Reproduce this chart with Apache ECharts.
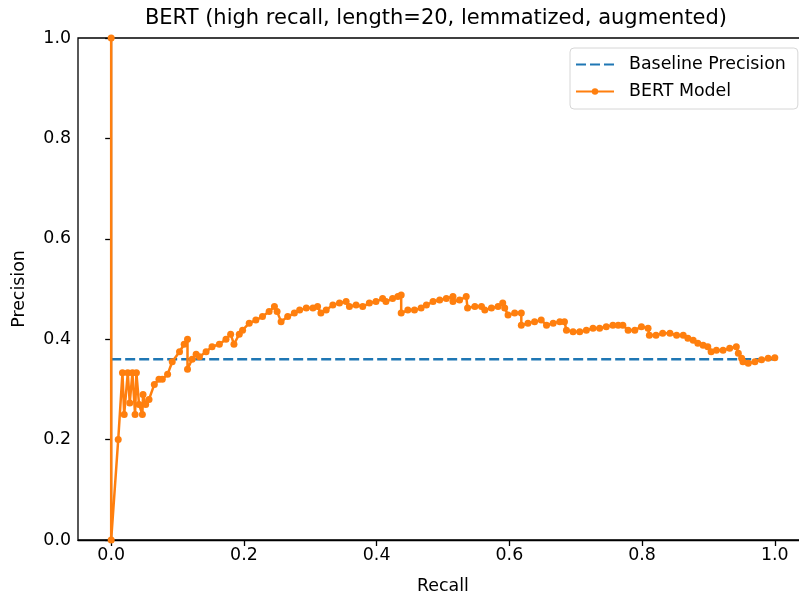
<!DOCTYPE html>
<html>
<head>
<meta charset="UTF-8">
<title>BERT PR curve</title>
<script src="https://cdn.jsdelivr.net/npm/echarts@6/dist/echarts.min.js"></script>
</head>
<body style="margin:0;background:#fff;">
<div id="main" style="width:799px;height:596px;"></div>
<script type="text/javascript">
// recall / precision
var recall = [0, 0, 0.0106, 0.017, 0.0196, 0.025, 0.028, 0.032, 0.036, 0.038, 0.042, 0.047, 0.048, 0.052, 0.057,
    0.065, 0.072, 0.077, 0.085, 0.092, 0.103, 0.11, 0.115, 0.115, 0.122, 0.128, 0.133, 0.143, 0.152, 0.163,
    0.173, 0.18, 0.185, 0.193, 0.198, 0.208, 0.218, 0.228, 0.238, 0.246, 0.25, 0.256, 0.266, 0.276, 0.284,
    0.294, 0.304, 0.311, 0.316, 0.324, 0.334, 0.344, 0.354, 0.359, 0.369, 0.379, 0.389, 0.399, 0.409, 0.414,
    0.424, 0.432, 0.437, 0.437, 0.447, 0.457, 0.467, 0.475, 0.485, 0.495, 0.505, 0.515, 0.515, 0.525, 0.535,
    0.537, 0.548, 0.558, 0.563, 0.573, 0.583, 0.59, 0.593, 0.598, 0.608, 0.618, 0.618, 0.628, 0.638, 0.648,
    0.656, 0.666, 0.676, 0.683, 0.686, 0.696, 0.706, 0.716, 0.726, 0.736, 0.746, 0.756, 0.764, 0.771, 0.779,
    0.789, 0.799, 0.809, 0.811, 0.821, 0.831, 0.842, 0.852, 0.862, 0.869, 0.877, 0.884, 0.892, 0.899, 0.904,
    0.912, 0.922, 0.932, 0.942, 0.945, 0.95, 0.952, 0.96, 0.97, 0.98, 0.99, 1.0];
var precision = [1.0, 0.0, 0.2, 0.333, 0.25, 0.333, 0.273, 0.333, 0.25, 0.333, 0.27, 0.25, 0.29, 0.27, 0.28,
    0.31, 0.32, 0.32, 0.33, 0.355, 0.375, 0.39, 0.4, 0.34, 0.36, 0.37, 0.365, 0.375, 0.385, 0.39,
    0.4, 0.41, 0.39, 0.41, 0.418, 0.432, 0.438, 0.445, 0.455, 0.465, 0.455, 0.435, 0.445, 0.452, 0.458,
    0.462, 0.462, 0.465, 0.452, 0.458, 0.468, 0.472, 0.475, 0.465, 0.468, 0.465, 0.472, 0.475, 0.481, 0.475,
    0.481, 0.485, 0.488, 0.452, 0.458, 0.458, 0.462, 0.468, 0.475, 0.478, 0.481, 0.485, 0.475, 0.478, 0.485,
    0.462, 0.465, 0.465, 0.458, 0.462, 0.465, 0.472, 0.462, 0.448, 0.452, 0.452, 0.428, 0.432, 0.435, 0.438,
    0.428, 0.432, 0.435, 0.435, 0.418, 0.415, 0.415, 0.418, 0.422, 0.422, 0.425, 0.428, 0.428, 0.428, 0.418,
    0.418, 0.425, 0.422, 0.408, 0.408, 0.412, 0.412, 0.408, 0.408, 0.402, 0.398, 0.392, 0.388, 0.385, 0.375,
    0.378, 0.378, 0.382, 0.385, 0.372, 0.362, 0.355, 0.352, 0.355, 0.359, 0.362, 0.363];
var baselineX = [0, 1];
var baselineY = [0.36, 0.36];
var xTicks = [0, 0.2, 0.4, 0.6, 0.8, 1.0];

var modelData = [];
for (var i = 0; i < recall.length; i++) {
    modelData.push([recall[i], precision[i]]);
}
var baselineData = [];
for (var j = 0; j < baselineX.length; j++) {
    baselineData.push([baselineX[j], baselineY[j]]);
}

var font = 'DejaVu Sans';
var fs = 17.4;
var myChart = echarts.init(document.getElementById('main'));
myChart.setOption({
    animation: false,
    textStyle: { fontFamily: font },
    title: {
        text: 'BERT (high recall, length=20, lemmatized, augmented)',
        left: 431,
        textAlign: 'center',
        top: 3,
        textStyle: { fontFamily: font, fontSize: 21, fontWeight: 'normal', color: '#000' }
    },
    legend: {
        orient: 'vertical',
        left: 570,
        top: 48,
        padding: [8, 12, 9, 5],
        itemGap: 10,
        itemWidth: 38,
        itemHeight: 8,
        backgroundColor: '#fff',
        borderColor: '#d6d6d6',
        borderWidth: 1,
        borderRadius: 4,
        textStyle: { fontFamily: font, fontSize: fs, color: '#000', padding: [0, 0, 0, 10] },
        data: [
            { name: 'Baseline Precision', itemStyle: { opacity: 0 } },
            { name: 'BERT Model' }
        ]
    },
    grid: {
        left: 78, top: 38, width: 730, height: 502,
        outerBoundsMode: 'none',
        containLabel: false,
        show: true, borderColor: '#000', borderWidth: 1.3, backgroundColor: 'transparent'
    },
    xAxis: {
        type: 'value',
        min: -0.05,
        max: 1.05,
        name: 'Recall',
        nameLocation: 'middle',
        nameGap: 38,
        nameTextStyle: { fontFamily: font, fontSize: fs, color: '#000' },
        axisLine: { show: true, onZero: false, lineStyle: { color: '#000', width: 1.3 } },
        axisTick: { show: true, length: 6, customValues: xTicks, lineStyle: { color: '#000', width: 1.3 } },
        axisLabel: {
            customValues: xTicks,
            fontFamily: font, fontSize: fs, color: '#000', margin: 7,
            formatter: function (v) { return v.toFixed(1); }
        },
        splitLine: { show: false }
    },
    yAxis: {
        type: 'value',
        min: 0,
        max: 1,
        interval: 0.2,
        name: 'Precision',
        nameLocation: 'middle',
        nameGap: 50,
        nameTextStyle: { fontFamily: font, fontSize: fs, color: '#000' },
        axisLine: { show: true, lineStyle: { color: '#000', width: 1.3 } },
        axisTick: { show: true, length: 6, lineStyle: { color: '#000', width: 1.3 } },
        axisLabel: {
            fontFamily: font, fontSize: fs, color: '#000', margin: 7,
            formatter: function (v) { return v.toFixed(1); }
        },
        splitLine: { show: false }
    },
    series: [
        {
            name: 'Baseline Precision',
            type: 'line',
            data: baselineData,
            symbol: 'none',
            color: '#1f77b4',
            lineStyle: { color: '#1f77b4', width: 2.6, type: [10, 4] },
            z: 2
        },
        {
            name: 'BERT Model',
            type: 'line',
            data: modelData,
            symbol: 'circle',
            symbolSize: 7,
            showAllSymbol: true,
            color: '#ff7f0e',
            itemStyle: { color: '#ff7f0e' },
            lineStyle: { color: '#ff7f0e', width: 2.5 },
            z: 3
        }
    ]
});
</script>
</body>
</html>
